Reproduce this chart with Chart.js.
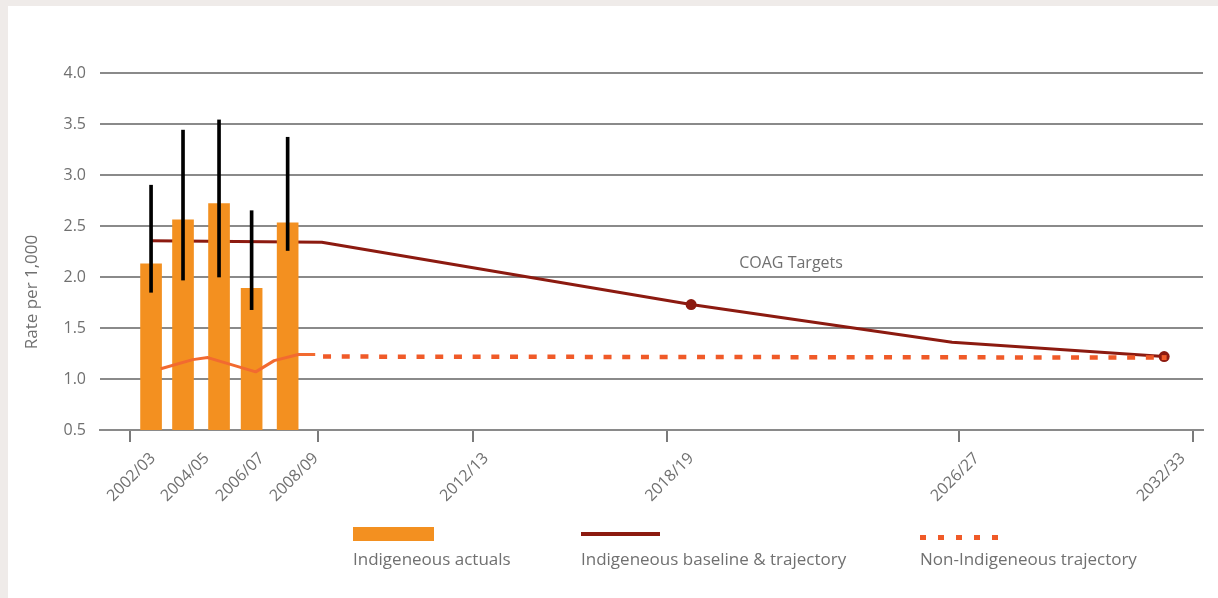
<!DOCTYPE html>
<html>
<head>
<meta charset="utf-8">
<script src="https://cdn.jsdelivr.net/npm/chart.js@4.4.1/dist/chart.umd.min.js"></script>
<style>
  html, body { margin: 0; padding: 0; }
  body { width: 1218px; height: 598px; background: #efebe9; overflow: hidden; font-family: 'Open Sans', sans-serif; }
  #panel { position: absolute; left: 8px; top: 6px; width: 1210px; height: 592px; background: #fff; }
  #c { position: absolute; left: 0; top: 0; }
  #legend { position: absolute; left: 0; top: 0; width: 1210px; height: 592px; }
  .swatch { position: absolute; }
  .ltext { position: absolute; color: #707070; font-size: 17px; line-height: 20px; white-space: nowrap; }
</style>
</head>
<body>
<div id="panel">
  <canvas id="c" width="1210" height="500"></canvas>
  <div id="legend"></div>
</div>
<script>
// Time axis: positions along the (hand-spaced) period axis, 2002/03 = 0, 2008/09 = 6
const periodLabels = ['2002/03', '2004/05', '2006/07', '2008/09', '2012/13', '2018/19', '2026/27', '2032/33'];
const labelAt = [0.72, 2.44, 4.19, 5.92, 11.35, 17.9, 27.02, 33.59];
const tickAt = [0, 6, 10.93, 17.12, 26.45, 33.91];

// Indigenous actual rates with confidence intervals
const actualAt = [0.66, 1.68, 2.83, 3.87, 5.02];
const actualRate = [2.13, 2.56, 2.72, 1.89, 2.53];
const actualLow = [1.85, 1.97, 2.00, 1.68, 2.26];
const actualHigh = [2.90, 3.44, 3.54, 2.65, 3.37];

// Indigenous baseline and COAG target trajectory
const baselineAt = [0.66, 6.11, 17.9, 26.23, 33.0];
const baselineRate = [2.355, 2.34, 1.73, 1.36, 1.22];
const baselineMarker = [0, 0, 5.5, 0, 5.5];

// Non-Indigenous observed rate and trajectory
const nonIndAt = [0.97, 1.99, 2.47, 4.0, 4.59, 5.36, 5.9];
const nonIndRate = [1.10, 1.19, 1.21, 1.07, 1.18, 1.24, 1.24];
const nonIndTrajAt = [6.15, 33.0];
const nonIndTrajRate = [1.22, 1.21];

const yTicks = [0.5, 1.0, 1.5, 2.0, 2.5, 3.0, 3.5, 4.0];
const axisTitle = 'Rate per 1,000';
const targetNote = 'COAG Targets';
const targetNoteAt = { x: 21.09, y: 2.13 };

const COLORS = {
  text: '#707070',
  grid: '#8a8a8a',
  bar: '#f39020',
  whisker: '#000000',
  baseline: '#8c1a10',
  nonInd: '#f26a30',
  nonIndTraj: '#f05a28'
};

const pts = (xs, ys) => xs.map((x, i) => ({ x, y: ys[i] }));

const noteLayer = {
  id: 'noteLayer',
  afterDraw(chart) {
    const { ctx, scales } = chart;
    ctx.save();
    ctx.fillStyle = COLORS.text;
    ctx.font = '17px "Open Sans"';
    ctx.textAlign = 'center';
    ctx.textBaseline = 'middle';
    ctx.translate(24.5, 286);
    ctx.rotate(-Math.PI / 2);
    ctx.fillText(axisTitle, 0, 0);
    ctx.restore();

    ctx.save();
    ctx.fillStyle = COLORS.text;
    ctx.font = '16px "Open Sans"';
    ctx.textAlign = 'center';
    ctx.textBaseline = 'middle';
    ctx.fillText(targetNote, scales.x.getPixelForValue(targetNoteAt.x), scales.y.getPixelForValue(targetNoteAt.y));
    ctx.restore();
  }
};

const xMin = -0.97, xMax = 34.24;

const chart = new Chart(document.getElementById('c'), {
  type: 'bar',
  data: {
    datasets: [
      {
        type: 'line',
        label: 'Indigeneous baseline & trajectory',
        data: pts(baselineAt, baselineRate),
        borderColor: COLORS.baseline,
        backgroundColor: COLORS.baseline,
        borderWidth: 3,
        borderJoinStyle: 'round',
        pointRadius: baselineMarker,
        pointHoverRadius: baselineMarker,
        pointBorderWidth: 0,
        tension: 0,
        xAxisID: 'x',
        order: 5
      },
      {
        type: 'bar',
        label: 'Indigeneous actuals',
        data: pts(actualAt, actualRate),
        backgroundColor: COLORS.bar,
        barThickness: 21,
        grouped: false,
        xAxisID: 'x',
        order: 4
      },
      {
        type: 'bar',
        label: 'Confidence interval',
        data: actualAt.map((x, i) => ({ x, y: [actualLow[i], actualHigh[i]] })),
        backgroundColor: COLORS.whisker,
        barThickness: 3,
        grouped: false,
        xAxisID: 'x',
        order: 3
      },
      {
        type: 'line',
        label: 'Non-Indigeneous rate',
        data: pts(nonIndAt, nonIndRate),
        borderColor: COLORS.nonInd,
        borderWidth: 3,
        borderJoinStyle: 'round',
        pointRadius: 0,
        tension: 0,
        xAxisID: 'x',
        order: 2
      },
      {
        type: 'line',
        label: 'Non-Indigeneous trajectory',
        data: pts(nonIndTrajAt, nonIndTrajRate),
        borderColor: COLORS.nonIndTraj,
        backgroundColor: COLORS.nonIndTraj,
        borderWidth: 4.5,
        borderDash: [8, 10.7],
        borderCapStyle: 'butt',
        pointStyle: 'rect',
        pointRadius: [0, 3.5],
        pointBorderWidth: 0,
        tension: 0,
        xAxisID: 'x',
        order: 1
      }
    ]
  },
  options: {
    responsive: false,
    animation: false,
    devicePixelRatio: 1,
    layout: { padding: { left: 0, right: 15, top: 67, bottom: 0 } },
    plugins: { legend: { display: false }, tooltip: { enabled: false } },
    scales: {
      x: {
        type: 'linear',
        position: 'bottom',
        weight: 0,
        offset: false,
        min: xMin,
        max: xMax,
        afterBuildTicks: (s) => { s.ticks = tickAt.map(v => ({ value: v })); },
        afterFit: (s) => { s.height = 12; s.paddingLeft = 0; s.paddingRight = 0; },
        ticks: { display: false },
        grid: { offset: false, drawOnChartArea: false, drawTicks: true, tickLength: 12, color: '#7a7a7a', lineWidth: 2 },
        border: { display: true, color: COLORS.grid, width: 2 }
      },
      periods: {
        type: 'linear',
        position: 'bottom',
        weight: 1,
        offset: false,
        min: xMin,
        max: xMax,
        afterBuildTicks: (s) => { s.ticks = labelAt.map(v => ({ value: v })); },
        afterFit: (s) => { s.height = 64; s.paddingLeft = 0; s.paddingRight = 0; },
        ticks: {
          autoSkip: false,
          minRotation: 45,
          maxRotation: 45,
          padding: 7,
          color: COLORS.text,
          font: { family: 'Open Sans', size: 16 },
          callback: (v, i) => periodLabels[i]
        },
        grid: { display: false, offset: false, drawTicks: false },
        border: { display: false }
      },
      y: {
        type: 'linear',
        min: yTicks[0],
        max: yTicks[yTicks.length - 1],
        afterBuildTicks: (s) => { s.ticks = yTicks.map(v => ({ value: v })); },
        afterFit: (s) => { s.width = 92; s.paddingTop = 0; s.paddingBottom = 0; },
        ticks: {
          padding: 14,
          color: COLORS.text,
          font: { family: 'Open Sans', size: 16 },
          callback: (v) => Number(v).toFixed(1)
        },
        grid: { color: COLORS.grid, lineWidth: 2, drawTicks: false },
        border: { display: false }
      }
    }
  },
  plugins: [noteLayer]
});

// Legend below the plot, built from the dataset styles
const byLabel = (l) => chart.data.datasets.find(d => d.label === l);
const legendItems = [
  { label: 'Indigeneous actuals', left: 345, kind: 'box' },
  { label: 'Indigeneous baseline & trajectory', left: 573, kind: 'line' },
  { label: 'Non-Indigeneous trajectory', left: 912, kind: 'dash' }
];
const legendEl = document.getElementById('legend');
legendItems.forEach(item => {
  const ds = byLabel(item.label);
  const sw = document.createElement('div');
  sw.className = 'swatch';
  sw.style.left = item.left + 'px';
  if (item.kind === 'box') {
    Object.assign(sw.style, { top: '521px', width: '81px', height: '14px', background: ds.backgroundColor });
  } else if (item.kind === 'line') {
    Object.assign(sw.style, { top: '526px', width: '79px', height: '4px', background: ds.borderColor });
  } else {
    Object.assign(sw.style, {
      top: '529px', width: '78px', height: '5px',
      background: `repeating-linear-gradient(90deg, ${ds.borderColor} 0 6px, transparent 6px 18px)`
    });
  }
  legendEl.appendChild(sw);
  const tx = document.createElement('div');
  tx.className = 'ltext';
  tx.style.left = item.left + 'px';
  tx.style.top = '543px';
  tx.textContent = item.label;
  legendEl.appendChild(tx);
});
</script>
</body>
</html>
